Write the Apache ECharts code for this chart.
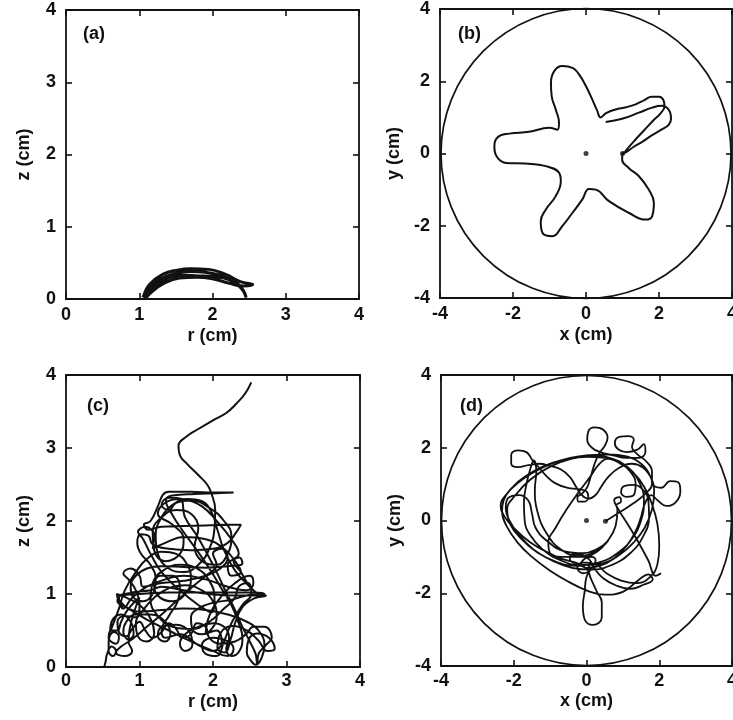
<!DOCTYPE html>
<html>
<head>
<meta charset="utf-8">
<script src="https://cdn.jsdelivr.net/npm/echarts@6/dist/echarts.min.js"></script>
<style>html,body{margin:0;padding:0;background:#fff}#c{width:733px;height:720px}</style>
</head>
<body>
<div id="c"></div>
<script>
// ---------- data ----------
const panelLabels = ['(a)', '(b)', '(c)', '(d)'];
const xNames = ['r (cm)', 'x (cm)', 'r (cm)', 'x (cm)'];
const yNames = ['z (cm)', 'y (cm)', 'z (cm)', 'y (cm)'];
const rzTicks = [0, 1, 2, 3, 4];
const xyTicks = [-4, -2, 0, 2, 4];
const wallRadius = 4;

// (a) r-z trajectory
const trajA = [
  [1.05,0.02],[1.12,0.14],[1.28,0.27],[1.48,0.35],[1.70,0.38],[1.90,0.37],[2.10,0.33],[2.30,0.25],[2.42,0.12],[2.46,0.02],
  [2.40,0.14],[2.22,0.27],[2.00,0.31],[1.80,0.32],[1.58,0.33],[1.35,0.27],[1.16,0.13],[1.06,0.04],
  [1.14,0.20],[1.32,0.34],[1.52,0.40],[1.70,0.42],[1.95,0.41],[2.18,0.34],[2.38,0.24],[2.55,0.20],
  [2.42,0.18],[2.22,0.22],[2.00,0.28],[1.78,0.30],[1.55,0.29],[1.34,0.22],[1.16,0.09],[1.08,0.00]
];

// (b) x-y trajectory (star)
const trajB = [
  [1.02,-0.02],[1.15,0.15],[1.35,0.38],[1.60,0.65],[1.85,0.92],[2.05,1.12],[2.15,1.30],[2.12,1.48],[2.00,1.57],
  [1.80,1.57],[1.60,1.48],[1.36,1.36],[1.10,1.28],[0.81,1.22],[0.55,1.12],[0.40,1.00],
  [0.30,1.20],[0.17,1.50],[0.00,1.86],[-0.19,2.19],[-0.37,2.37],[-0.65,2.42],[-0.87,2.28],[-0.96,1.96],[-0.94,1.59],[-0.83,1.22],[-0.74,0.85],[-0.78,0.66],
  [-1.01,0.71],[-1.56,0.60],[-2.10,0.55],[-2.42,0.45],[-2.51,0.16],[-2.42,-0.12],[-2.19,-0.26],[-1.65,-0.28],[-1.10,-0.35],[-0.74,-0.53],
  [-0.69,-0.77],[-0.83,-1.18],[-1.10,-1.55],[-1.24,-1.88],[-1.19,-2.20],[-0.92,-2.29],[-0.65,-2.01],[-0.37,-1.64],[-0.10,-1.27],[0.08,-0.98],
  [0.27,-1.00],[0.63,-1.32],[1.17,-1.64],[1.63,-1.83],[1.81,-1.74],[1.86,-1.37],[1.72,-1.00],[1.45,-0.63],[1.17,-0.40],[0.99,-0.17],[1.00,0.00],
  [1.10,0.04],[1.30,0.18],[1.54,0.32],[1.80,0.50],[2.10,0.68],[2.27,0.80],[2.33,0.96],[2.30,1.15],[2.18,1.30],[2.08,1.32],
  [1.81,1.27],[1.45,1.13],[0.99,0.96],[0.54,0.87]
];
const dotsB = [[0, 0], [1.0, 0.0]];

// (c) r-z trajectory (chaotic)
const trajC = [
  [2.52,3.90],[2.44,3.75],[2.32,3.61],[2.18,3.48],[2.00,3.38],[1.80,3.26],[1.63,3.15],[1.53,3.03],[1.55,2.90],[1.65,2.78],[1.80,2.63],[1.92,2.50],[1.97,2.40],
  [2.03,2.15],[2.02,1.90],[1.95,1.62],[1.80,1.40],[1.60,1.30],[1.40,1.35],[1.25,1.55],[1.22,1.80],[1.30,2.05],[1.45,2.22],[1.65,2.30],[1.85,2.27],[1.98,2.12],[2.06,1.88],
  [2.15,1.60],[2.30,1.32],[2.48,1.12],[2.62,1.00],[2.72,0.98],[2.56,0.94],[2.40,0.82],[2.30,0.60],[2.24,0.38],[2.16,0.20],[2.06,0.26],[2.10,0.46],[2.26,0.56],[2.46,0.50],[2.62,0.36],[2.74,0.22],[2.84,0.25],[2.76,0.40],[2.60,0.46],[2.48,0.36],[2.46,0.20],[2.52,0.08],[2.58,0.03],[2.66,0.12],[2.70,0.30],[2.62,0.50],[2.46,0.62],
  [2.20,0.72],[1.90,0.78],[1.60,0.80],[1.30,0.78],[1.05,0.76],[0.85,0.80],[0.72,0.92],[0.69,1.00],[0.82,0.95],[1.00,0.85],[1.15,0.66],[1.20,0.46],[1.10,0.35],[0.98,0.42],[0.95,0.60],[1.05,0.78],[1.20,0.95],[1.40,1.08],[1.62,1.12],[1.85,1.05],[2.00,0.90],[2.05,0.70],[1.98,0.52],[1.85,0.45],[1.72,0.52],[1.70,0.68],[1.80,0.80],[2.00,0.88],[2.25,0.92],[2.45,0.98],[2.60,1.00],
  [2.50,1.10],[2.38,1.30],[2.28,1.45],[2.36,1.50],[2.40,1.42],[2.20,1.38],[1.90,1.36],[1.60,1.37],[1.30,1.38],[1.10,1.35],[0.95,1.25],[0.88,1.10],[0.92,0.95],[1.05,0.90],[1.18,1.00],[1.22,1.20],[1.15,1.40],[1.02,1.55],[0.97,1.70],[1.02,1.82],[1.12,1.80],[1.18,1.68],[1.40,1.62],[1.70,1.60],[2.00,1.62],[2.20,1.70],[2.32,1.85],[2.38,1.95],[2.20,1.95],[1.90,1.94],[1.60,1.93],[1.30,1.92],[1.12,1.88],[1.06,1.95],[1.15,2.00],
  [1.25,2.20],[1.32,2.36],[1.40,2.40],[1.70,2.40],[2.00,2.39],[2.28,2.39],[2.05,2.38],[1.75,2.37],[1.45,2.35],[1.36,2.28],[1.45,2.08],[1.60,1.85],[1.78,1.60],[1.95,1.35],[2.10,1.10],[2.25,0.85],[2.35,0.60],[2.40,0.40],[2.36,0.22],[2.25,0.15],[2.18,0.25],[2.22,0.40],[2.15,0.55],
  [2.00,0.60],[1.80,0.55],[1.62,0.45],[1.55,0.32],[1.62,0.22],[1.72,0.30],[1.68,0.48],[1.50,0.58],[1.30,0.55],[1.25,0.42],[1.35,0.35],[1.42,0.45],[1.35,0.62],[1.15,0.72],[0.95,0.72],[0.82,0.62],[0.78,0.48],[0.85,0.38],[0.92,0.45],[0.88,0.62],[0.75,0.72],[0.62,0.62],[0.60,0.48],
  [0.72,0.80],[0.80,1.05],[0.95,1.30],[1.10,1.48],[1.30,1.58],[1.50,1.55],[1.65,1.40],[1.70,1.20],[1.62,1.00],[1.45,0.90],[1.28,0.95],[1.20,1.10],[1.28,1.25],[1.45,1.25],[1.55,1.10],[1.52,0.90],[1.40,0.70],[1.30,0.50],[1.35,0.40],
  [1.55,0.45],[1.80,0.30],[2.00,0.22],[2.12,0.35],[2.05,0.50],[1.90,0.45],[1.95,0.70],[2.10,0.95],[2.30,1.15],[2.50,1.25],[2.55,1.15],[2.45,1.05],[2.20,1.10],[1.90,1.20],[1.60,1.25],[1.35,1.20],[1.10,1.10],[0.90,0.95],[0.78,0.80],[0.72,0.95],[0.90,1.02],[1.15,1.05],
  [1.30,1.10],[1.60,1.05],[1.95,1.00],[2.30,0.98],[2.62,0.98],[2.70,1.00],[2.55,1.02],[2.20,1.02],[1.80,1.02],[1.40,1.02],[1.00,1.00],[0.75,0.98],[0.70,0.90],[0.85,0.80],[1.10,0.65],[1.40,0.50],[1.70,0.35],[2.00,0.22],[2.20,0.15],[2.28,0.25],[2.20,0.35],[2.00,0.40],[1.85,0.30],[1.90,0.18],[2.05,0.15],
  [2.15,0.35],[2.25,0.60],[2.40,0.85],[2.52,1.00],[2.48,1.15],[2.35,1.10],[2.30,0.95],
  [2.15,0.80],[1.95,0.62],[1.70,0.52],[1.45,0.55],[1.25,0.70],[1.15,0.92],[1.18,1.15],[1.32,1.32],[1.55,1.40],[1.78,1.35],[1.95,1.18],[2.02,0.95],[1.98,0.75],
  [1.80,0.85],[1.55,1.05],[1.30,1.30],[1.15,1.55],[1.05,1.75],[0.98,1.85],[1.08,1.92],[1.20,1.80],[1.18,1.62],
  [1.35,1.70],[1.60,1.78],[1.90,1.75],[2.15,1.62],[2.30,1.45],[2.38,1.30],[2.25,1.25],[2.20,1.40],[2.35,1.55],
  [2.25,1.75],[2.05,2.00],[1.85,2.20],[1.60,2.30],[1.40,2.32],[1.30,2.22],[1.40,2.15],[1.50,2.25],
  [1.70,2.28],[1.95,2.18],[2.15,2.00],[2.25,1.80],[2.20,1.55],[2.05,1.40],[1.85,1.45],[1.75,1.65],[1.80,1.90],[1.70,2.10],[1.50,2.15],[1.30,2.05],[1.18,1.85],[1.20,1.60],[1.35,1.45],[1.55,1.55],[1.60,1.75],[1.45,1.95],[1.25,2.10],[1.35,2.25],[1.55,2.30],
  [1.62,2.05],[1.78,1.80],[1.92,1.55],[2.05,1.30],[2.18,1.02],[2.30,0.78],[2.40,0.55],[2.50,0.35],[2.58,0.18],[2.60,0.05],[2.62,0.18],[2.72,0.30],[2.80,0.40],[2.70,0.55],[2.55,0.55],[2.45,0.45],
  [2.30,0.35],[2.10,0.32],[1.95,0.40],[1.90,0.55],[1.78,0.60],[1.70,0.45],[1.58,0.40],[1.50,0.52],[1.40,0.60],[1.30,0.48],[1.18,0.40],[1.08,0.50],[1.00,0.62],[0.90,0.52],[0.82,0.42],[0.72,0.48],[0.70,0.62],[0.80,0.70],[0.95,0.68],
  [1.00,0.85],[0.95,1.05],[0.85,1.20],[0.78,1.28],[0.88,1.35],[1.00,1.25],[1.05,1.10],
  [1.30,1.15],[1.60,1.18],[1.90,1.25],[2.10,1.35],[2.20,1.50],[2.12,1.62],[2.00,1.55],[2.05,1.40],
  [1.90,1.25],[1.70,1.08],[1.50,0.90],[1.30,0.72],[1.10,0.55],[0.90,0.38],[0.75,0.28],[0.68,0.20],[0.80,0.15],[0.90,0.22],[0.85,0.35],
  [1.00,0.95],[0.85,0.80],[0.75,0.62],[0.70,0.50],[0.62,0.50],[0.58,0.40],[0.68,0.32],[0.72,0.42],[0.65,0.48],[0.58,0.35],[0.58,0.22],[0.64,0.15],[0.68,0.22],[0.62,0.28],[0.56,0.18],[0.54,0.08],[0.52,0.00]
];

// (d) x-y trajectory (chaotic)
const trajD = [
  [0.52,-0.02],[0.90,0.22],[1.30,0.48],[1.62,0.74],[1.80,1.00],[1.80,1.35],[1.62,1.65],[1.40,1.82],
  [1.25,2.02],[1.30,2.22],[1.15,2.32],[0.90,2.30],[0.78,2.12],[0.88,1.95],[1.10,1.88],[1.40,1.95],[1.58,2.10],[1.62,1.90],[1.45,1.72],
  [1.10,1.72],[0.70,1.80],[0.38,1.88],
  [0.15,2.00],[0.02,2.22],[0.05,2.45],[0.22,2.56],[0.45,2.50],[0.58,2.28],[0.50,2.05],[0.35,1.85],[0.22,1.55],[0.12,1.22],[0.02,0.92],[-0.12,0.74],[-0.25,0.64],[-0.22,0.52],[-0.06,0.52],[0.05,0.64],[0.00,0.80],[-0.22,0.86],[-0.52,0.90],
  [-0.85,1.02],[-1.10,1.22],[-1.30,1.45],[-1.48,1.65],[-1.65,1.88],[-1.88,1.93],[-2.07,1.80],[-2.07,1.57],[-1.88,1.47],[-1.60,1.52],[-1.30,1.56],[-1.00,1.50],[-0.70,1.40],[-0.46,1.20],[-0.30,0.95],[-0.15,0.72],[0.05,0.60],[0.25,0.70],[0.40,0.92],[0.60,1.20],[0.90,1.45],[1.25,1.56],[1.55,1.46],[1.75,1.22],[1.86,0.95],[2.06,0.90],[2.30,1.08],[2.52,1.05],[2.58,0.80],[2.45,0.50],[2.20,0.40],[1.96,0.55],[1.78,0.70],[1.60,0.45],[1.50,0.10],[1.35,-0.30],[1.10,-0.70],[0.75,-1.05],[0.35,-1.25],[0.02,-1.30],[-0.15,-1.20],[-0.05,-1.05],[0.15,-1.00],[0.25,-1.10],[0.15,-1.30],[0.00,-1.55],[-0.05,-1.95],[-0.10,-2.35],[-0.05,-2.72],[0.18,-2.87],[0.42,-2.66],[0.42,-2.25],[0.28,-1.95],[0.12,-1.60],[0.00,-1.32],[-0.30,-1.16],[-0.70,-1.05],[-1.10,-0.86],[-1.55,-0.60],[-1.95,-0.25],[-2.25,0.10],[-2.36,0.42],[-2.20,0.72],[-1.90,1.02],[-1.50,1.30],[-1.00,1.55],[-0.45,1.72],[0.10,1.80],[0.60,1.82],[1.10,1.76],[1.50,1.56],[1.76,1.20],[1.86,0.80],[1.80,0.30],[1.60,-0.20],[1.30,-0.60],[0.90,-0.95],[0.45,-1.18],[0.05,-1.22],[-0.30,-1.18],[-0.46,-1.05],[-0.35,-0.92],[-0.10,-0.95],[0.10,-1.10],[0.22,-1.32],[0.45,-1.58],[0.80,-1.78],[1.20,-1.88],[1.58,-1.76],[1.82,-1.62],[1.70,-1.48],[1.45,-1.62],[1.00,-1.96],[0.50,-2.04],[0.00,-1.92],[-0.50,-1.68],[-1.00,-1.38],[-1.50,-1.00],[-1.90,-0.60],[-2.20,-0.15],[-2.32,0.25],[-2.28,0.55],[-2.05,0.90],[-1.70,1.20],[-1.20,1.48],[-0.60,1.68],[0.00,1.75],[0.50,1.72],[0.90,1.60],[1.20,1.35],[1.35,1.00],[1.30,0.70],[1.10,0.65],[0.95,0.78],[1.05,0.95],[1.30,0.98],[1.55,0.85],[1.70,0.55],[1.72,0.10],[1.55,-0.45],[1.20,-0.90],[0.70,-1.22],[0.15,-1.35],[-0.40,-1.30],[-0.95,-1.10],[-1.45,-0.80],[-1.85,-0.40],[-2.12,0.00],[-2.22,0.35],[-2.15,0.62],[-1.85,0.70],[-1.60,0.55],[-1.50,0.20],[-1.40,-0.20],[-1.10,-0.55],[-0.60,-0.85],[-0.10,-0.90],[0.30,-0.78],[0.60,-0.55],
  [0.30,-0.82],[-0.20,-0.98],[-0.70,-0.80],[-1.10,-0.35],[-1.35,0.25],[-1.42,0.85],[-1.38,1.35],[-1.45,1.65],[-1.55,1.40],[-1.65,1.00],[-1.72,0.50],[-1.70,0.00],[-1.55,-0.40],[-1.20,-0.80],[-0.70,-1.10],[-0.20,-1.22],[0.35,-1.15],[0.85,-0.90],[1.25,-0.50],[1.50,0.00],[1.58,0.55],[1.45,1.05],[1.15,1.45],[0.70,1.70],[0.20,1.78],[-0.40,1.70],[-1.00,1.48],[-1.55,1.12],[-1.95,0.70],[-2.18,0.30],[-2.10,-0.10],[-1.80,-0.50],[-1.35,-0.88],[-0.80,-1.15],[-0.25,-1.25],[0.00,-1.22],[0.10,-1.35],[-0.10,-1.45],[-0.25,-1.30],[-0.10,-1.15],[0.25,-1.20],[0.55,-1.45],[0.95,-1.65],[1.40,-1.72],[1.75,-1.55],[1.95,-1.20],[2.00,-0.70],[1.95,-0.10],[1.80,0.45],[1.60,0.90],[1.30,1.30],[0.90,1.58],[0.60,1.70],[0.35,1.55],[0.10,1.20],[-0.20,0.80],[-0.55,0.30],[-0.85,-0.20],[-1.05,-0.60],[-1.00,-0.90],[-0.60,-1.00],[-0.10,-1.00],[0.30,-0.85],[0.55,-0.60],
  [0.80,-0.15],[0.85,0.30],[0.82,0.42],[0.95,0.52],[0.90,0.64],[0.76,0.56],[0.85,0.35],[1.10,-0.05],[1.40,-0.55],[1.70,-1.10],[1.90,-1.52],[2.05,-1.45]
];
const dotsD = [[0, 0], [0.52, -0.02]];

// ---------- layout ----------
const FONT = 'Liberation Sans';
const FSIZE = 18;
const grids = [
  {left: 66, top: 10, width: 293, height: 289},
  {left: 440, top: 9, width: 292, height: 289},
  {left: 66, top: 375, width: 294, height: 292},
  {left: 441, top: 375, width: 291, height: 291}
];
const labelPos = [[83, 25], [458, 25], [87, 397], [460, 397]];
const nameGapX = [28, 28, 26, 26];
const nameGapY = [33, 37, 33, 37];
const labelMarginX = [7, 7, 5, 6];

const isRZ = [true, false, true, false];
const black = '#111';

const xAxis = [], yAxis = [];
grids.forEach((g, i) => {
  const ticks = isRZ[i] ? rzTicks : xyTicks;
  const mn = ticks[0], mx = ticks[ticks.length - 1], iv = ticks[1] - ticks[0];
  const common = {
    type: 'value', gridIndex: i, min: mn, max: mx, interval: iv,
    splitLine: {show: false},
    axisLine: {show: true, onZero: false, lineStyle: {color: black, width: 1.8}},
    axisTick: {show: true, inside: true, length: 6, lineStyle: {color: black, width: 1.6}}
  };
  const lbl = {show: true, color: black, fontFamily: FONT, fontSize: FSIZE, fontWeight: 'bold', showMinLabel: true, showMaxLabel: true};
  xAxis.push(Object.assign({}, common, {
    position: 'bottom', name: xNames[i], nameLocation: 'middle', nameGap: nameGapX[i],
    nameTextStyle: {color: black, fontFamily: FONT, fontSize: FSIZE, fontWeight: 'bold'},
    axisLabel: Object.assign({}, lbl, {margin: labelMarginX[i]})
  }));
  xAxis.push(Object.assign({}, common, {position: 'top', axisLabel: {show: false}}));
  yAxis.push(Object.assign({}, common, {
    position: 'left', name: yNames[i], nameLocation: 'middle', nameGap: nameGapY[i],
    nameTextStyle: {color: black, fontFamily: FONT, fontSize: FSIZE, fontWeight: 'bold'},
    axisLabel: Object.assign({}, lbl, {margin: 10})
  }));
  yAxis.push(Object.assign({}, common, {position: 'right', axisLabel: {show: false}}));
});

// container wall circles via polar axes (panels b and d)
const polar = [
  {center: [586, 153.5], radius: 145},
  {center: [586.5, 520.5], radius: 145}
];
const angleAxis = [0, 1].map(k => ({
  polarIndex: k, type: 'value', min: 0, max: 360,
  axisLine: {show: true, lineStyle: {color: black, width: 1.7}},
  axisTick: {show: false}, axisLabel: {show: false}, splitLine: {show: false}
}));
const radiusAxis = [0, 1].map(k => ({
  polarIndex: k, type: 'value', min: 0, max: wallRadius,
  axisLine: {show: false}, axisTick: {show: false}, axisLabel: {show: false}, splitLine: {show: false}
}));

const lineSeries = (data, gi, w) => ({
  type: 'line', xAxisIndex: gi * 2, yAxisIndex: gi * 2, data: data,
  showSymbol: false, smooth: 0.45, lineStyle: {color: black, width: w}, silent: true
});

const option = {
  animation: false,
  backgroundColor: '#fff',
  title: panelLabels.map((t, i) => ({
    text: t, left: labelPos[i][0], top: labelPos[i][1], padding: 0,
    textStyle: {color: black, fontFamily: FONT, fontSize: FSIZE, fontWeight: 'bold'}
  })),
  grid: grids.map(g => Object.assign({containLabel: false, outerBoundsMode: 'none'}, g)),
  xAxis: xAxis, yAxis: yAxis,
  polar: polar, angleAxis: angleAxis, radiusAxis: radiusAxis,
  series: [
    lineSeries(trajA, 0, 3),
    lineSeries(trajB, 1, 2),
    lineSeries(trajC, 2, 2),
    lineSeries(trajD, 3, 1.8),
    {type: 'scatter', xAxisIndex: 2, yAxisIndex: 2, data: dotsB, symbolSize: 5, itemStyle: {color: black}, silent: true},
    {type: 'scatter', xAxisIndex: 6, yAxisIndex: 6, data: dotsD, symbolSize: 5, itemStyle: {color: black}, silent: true}
  ]
};
const chart = echarts.init(document.getElementById('c'), null, {renderer: 'canvas'});
chart.setOption(option);
</script>
</body>
</html>
